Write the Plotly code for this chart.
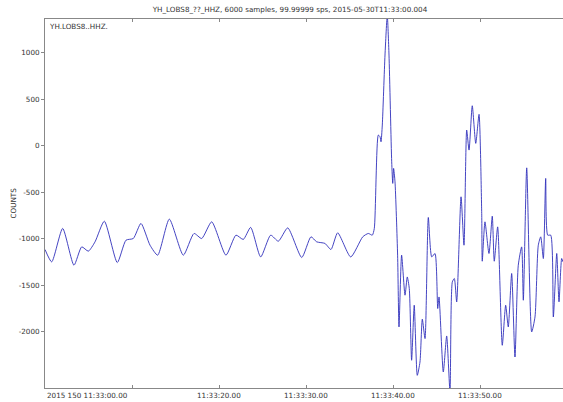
import plotly.graph_objects as go

# seconds after 2015-05-30T11:33:00.004
t = [0.00, 0.77, 2.03, 3.33, 4.22, 4.98, 5.75, 6.82, 8.31, 9.31, 10.15, 11.03, 12.07, 12.95,
     14.29, 15.90, 17.13, 18.01, 19.16, 20.80, 21.95, 22.79, 23.64, 24.79, 25.94, 26.82,
     27.90, 29.51, 30.57, 31.23, 32.18, 32.87, 33.64, 35.14, 36.52, 37.16, 37.62, 37.85,
     38.31, 38.51, 38.62, 38.77, 39.08, 39.34, 39.54, 39.85, 39.97, 40.07, 40.23, 40.53,
     40.69, 40.99, 41.38, 41.64, 41.87, 42.14, 42.44, 42.79, 43.10, 43.37, 43.68, 44.06,
     44.45, 44.83, 45.14, 45.29, 45.78, 46.17, 46.55, 46.82, 47.05, 47.32, 47.82, 48.16,
     48.47, 48.74, 49.11, 49.51, 49.89, 50.20, 50.26, 50.57, 51.03, 51.41, 51.64, 52.03,
     52.56, 52.95, 53.25, 53.64, 54.02, 54.40, 54.79, 54.98, 55.37, 55.94, 56.32, 56.70,
     56.98, 57.28, 57.55, 57.78, 58.13, 58.43, 58.82, 59.08, 59.39, 59.54]
counts = [-1114, -1247, -888, -1283, -1086, -1132, -1032, -810, -1254, -1014, -996, -834,
          -1068, -1175, -788, -1175, -942, -996, -817, -1175, -960, -1006, -877, -1194,
          -960, -1025, -882, -1200, -978, -1032, -1049, -1114, -935, -1194, -978, -942,
          -960, -888,
          115, 97, 43, 223, 975, 1400, 975, -172, -404, -243, -387, -1175,
          -1946, -1175, -1605, -1409, -1533, -2304, -1713, -2466, -2323, -1863, -2071, -770,
          -1194, -1157, -1748, -1624, -2430, -2043, -2640, -1462, -1426, -1677, -548, -1068,
          169, -46, 430, 26, 338, -745, -1240, -817, -1157, -756, -1240, -871,
          -2143, -1713, -1946, -1372, -2269, -1283, -1086, -1659, -237, -2000, -1839, -1068,
          -978, -1211, -351, -960, -960, -1839, -1157, -1677, -1211, -1247]

x_tick_vals = [0, 10, 20, 30, 40, 50]
x_tick_text = ["2015 150 11:33:00.00", "", "11:33:20.00", "11:33:30.00", "11:33:40.00", "11:33:50.00"]
y_tick_vals = [1000, 500, 0, -500, -1000, -1500, -2000]
y_tick_text = ["1000", "500", "0", "-500", "-1000", "-1500", "-2000"]

title = "YH_LOBS8_??_HHZ, 6000 samples, 99.99999 sps, 2015-05-30T11:33:00.004"
trace_id = "YH.LOBS8..HHZ."

FONT = "DejaVu Sans"
FS = 7.2
TXT = "#333333"
AX = "#888888"

fig = go.Figure()
fig.add_trace(go.Scatter(x=t, y=counts, mode="lines",
                         line=dict(color="#3030bb", width=0.9, shape="spline", smoothing=0.6),
                         hoverinfo="skip", showlegend=False))

annos = []
for v, s in zip(x_tick_vals, x_tick_text):
    if not s:
        continue
    annos.append(dict(x=v, y=0, xref="x", yref="paper", yanchor="top", yshift=-1,
                      xanchor="left" if v == 0 else "center", text=s, showarrow=False,
                      font=dict(family=FONT, size=FS, color=TXT)))
annos.append(dict(x=0, y=1, xref="paper", yref="paper", xanchor="left", yanchor="top",
                  xshift=2, yshift=-1, text=trace_id, showarrow=False,
                  font=dict(family=FONT, size=FS, color=TXT)))
annos.append(dict(x=-44 / 518 + 12 / 518, y=0.5, xref="paper", yref="paper", textangle=-90,
                  xanchor="center", yanchor="middle", text="COUNTS", showarrow=False,
                  font=dict(family=FONT, size=FS, color=TXT)))

fig.update_layout(
    width=563, height=402,
    margin=dict(l=45, r=0, t=19, b=14),
    paper_bgcolor="white", plot_bgcolor="white",
    title=dict(text=title, x=290 / 563, xanchor="center", xref="container",
               y=1 - 9 / 402, yref="container", yanchor="middle",
               font=dict(family=FONT, size=FS, color=TXT)),
    annotations=annos,
    xaxis=dict(range=[0, 59.54], tickvals=x_tick_vals, ticktext=["" for _ in x_tick_vals],
               ticks="inside", ticklen=3, tickcolor=AX, showgrid=False, zeroline=False,
               showline=True, linecolor=AX, linewidth=1, mirror="ticks"),
    yaxis=dict(range=[-2602, 1362], tickvals=y_tick_vals, ticktext=y_tick_text,
               ticks="outside", ticklen=3, tickcolor=AX, showgrid=False, zeroline=False,
               showline=True, linecolor=AX, linewidth=1,
               tickfont=dict(family=FONT, size=FS, color=TXT)),
)

fig.write_html("out.html")
